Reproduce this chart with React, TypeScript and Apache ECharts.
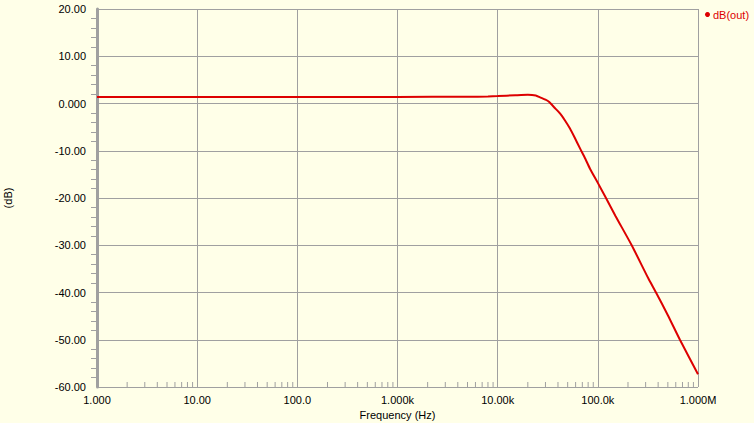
import React, { useEffect, useRef } from "react";
import * as echarts from "echarts";

const freqs: number[] = [
  1, 10, 100, 1000, 5000, 8000, 10000, 15000, 20000, 24000, 26500, 30000, 32500,
  37000, 41900, 47000, 52700, 59000, 66400, 75000, 83500, 100000, 120600, 150000,
  217800, 319000, 380800, 500000, 660000, 1000000,
];
const dbOut: number[] = [
  1.4, 1.4, 1.4, 1.4, 1.42, 1.5, 1.58, 1.75, 1.85, 1.7, 1.3, 0.8, 0.35,
  -0.9, -2.1, -3.6, -5.3, -7.3, -9.5, -11.7, -13.8, -16.8, -20, -23.8,
  -30, -37, -40, -44.8, -50, -57.3,
];
const minorFreqs: number[] = [
  2, 3, 4, 5, 6, 7, 8, 9,
  20, 30, 40, 50, 60, 70, 80, 90,
  200, 300, 400, 500, 600, 700, 800, 900,
  2000, 3000, 4000, 5000, 6000, 7000, 8000, 9000,
  20000, 30000, 40000, 50000, 60000, 70000, 80000, 90000,
  200000, 300000, 400000, 500000, 600000, 700000, 800000, 900000,
];
const xTickLabels: Record<number, string> = {
  1: "1.000", 10: "10.00", 100: "100.0", 1000: "1.000k",
  10000: "10.00k", 100000: "100.0k", 1000000: "1.000M",
};
const seriesName = "dB(out)";

export default function App() {
  const ref = useRef<HTMLDivElement>(null);
  useEffect(() => {
    document.body.style.margin = "0";
    const chart = echarts.init(ref.current!, null, { renderer: "svg" });
    const grey = "#A0A0A0";
    const font = "Liberation Sans";
    chart.setOption({
      animation: false,
      backgroundColor: "#FFFFE8",
      textStyle: { fontFamily: font },
      grid: { left: 97, right: 56, top: 9, bottom: 36, outerBoundsMode: "none", containLabel: false },
      legend: {
        data: [{ name: seriesName, icon: "circle" }],
        left: 705, top: 9, itemWidth: 5, itemHeight: 5, itemGap: 4,
        padding: 0,
        textStyle: { color: "#DD0000", fontSize: 11, fontFamily: font, padding: [0, 0, 0, -2] },
      },
      xAxis: {
        type: "log", min: 1, max: 1000000, logBase: 10,
        name: "Frequency (Hz)", nameLocation: "middle", nameGap: 20,
        nameTextStyle: { color: "#000", fontSize: 11, fontFamily: font },
        axisLine: { show: true, lineStyle: { color: grey, width: 1 } },
        axisTick: { show: false },
        axisLabel: {
          color: "#000", fontSize: 11, fontFamily: font, margin: 7,
          formatter: (v: number) => xTickLabels[Math.round(v)] ?? "",
        },
        splitLine: { show: true, lineStyle: { color: grey, width: 1 } },
      },
      yAxis: {
        type: "value", min: -60, max: 20, interval: 10,
        name: "(dB)", nameLocation: "middle", nameGap: 84, nameRotate: 90,
        nameTextStyle: { color: "#000", fontSize: 11, fontFamily: font },
        axisLine: { show: true, onZero: false, lineStyle: { color: grey, width: 3 } },
        axisTick: { show: false },
        minorTick: { show: true, splitNumber: 5, length: 6, lineStyle: { color: grey, width: 1 } },
        axisLabel: {
          color: "#000", fontSize: 11, fontFamily: font, margin: 11,
          formatter: (v: number) => (v === 0 ? "0.000" : v.toFixed(2)),
        },
        splitLine: { show: true, lineStyle: { color: grey, width: 1 } },
      },
      series: [
        {
          type: "custom",
          silent: true,
          clip: false,
          data: minorFreqs.map((f) => [f, -60]),
          renderItem: (params: any, api: any) => {
            const p = api.coord([api.value(0), api.value(1)]);
            return {
              type: "line",
              shape: { x1: p[0], y1: p[1], x2: p[0], y2: p[1] - 5 },
              style: { stroke: grey, lineWidth: 1 },
            };
          },
          z: 1,
        },
        {
          name: seriesName,
          type: "line",
          data: freqs.map((f, i) => [f, dbOut[i]]),
          showSymbol: false,
          smooth: 0.2,
          lineStyle: { color: "#DD0000", width: 2 },
          itemStyle: { color: "#DD0000" },
          z: 3,
        },
      ],
    });
    return () => chart.dispose();
  }, []);
  return (
    <div
      ref={ref}
      style={{ position: "fixed", left: 0, top: 0, width: 754, height: 423 }}
    />
  );
}
